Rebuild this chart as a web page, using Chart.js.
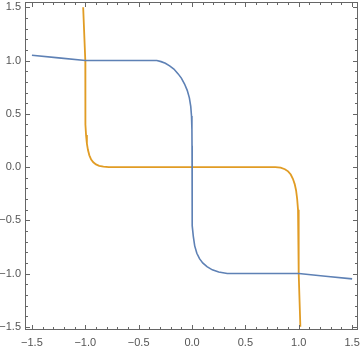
<!DOCTYPE html>
<html>
<head>
<meta charset="utf-8">
<script src="https://cdn.jsdelivr.net/npm/chart.js@4.4.1/dist/chart.umd.min.js"></script>
<style>
  html, body { margin: 0; padding: 0; background: #fff; }
  #wrap { width: 360px; height: 351px; }
</style>
</head>
<body>
<div id="wrap"><canvas id="chart"></canvas></div>
<script>
// blue curve
const blueX = [-1.5, -1.25, -1.0, -0.6, -0.33, -0.29, -0.25, -0.21, -0.17, -0.13, -0.1, -0.07, -0.045, -0.025,
  -0.012, -0.005, -0.001, 0, 0, 0, 0.001, 0.005, 0.012, 0.025, 0.045, 0.07, 0.1, 0.14, 0.19, 0.25, 0.33,
  0.6, 1.0, 1.25, 1.5];
const blueY = [1.05, 1.025, 1.0, 1.0, 1.0, 0.99, 0.975, 0.95, 0.92, 0.875, 0.835, 0.78, 0.72, 0.65,
  0.57, 0.48, 0.35, 0.2, 0, -0.2, -0.4, -0.55, -0.65, -0.74, -0.81, -0.86, -0.9, -0.935, -0.965, -0.985, -1.0,
  -1.0, -1.0, -1.025, -1.05];

// orange curve
const orangeX = [-1.02, -1.0, -1.0, -0.998, -0.993, -0.985, -0.975, -0.962, -0.945, -0.925, -0.9, -0.87,
  -0.83, -0.78, 0, 0.78, 0.83, 0.87, 0.9, 0.925, 0.945, 0.962, 0.975, 0.985, 0.993, 0.998, 1.0, 1.0, 1.015];
const orangeY = [1.5, 1.0, 0.6, 0.4, 0.3, 0.22, 0.16, 0.11, 0.07, 0.045, 0.025, 0.012,
  0.004, 0, 0, 0, -0.005, -0.02, -0.04, -0.07, -0.11, -0.16, -0.22, -0.3, -0.4, -0.55, -0.7, -1.0, -1.5];

const tickValues = [-1.5, -1.0, -0.5, 0, 0.5, 1.0, 1.5];
const minorTicks = [];
for (let i = -15; i <= 15; i++) minorTicks.push(i / 10);

const blue = '#5E81B5';
const orange = '#E19C24';
const frameColor = '#666';

function pts(xs, ys) {
  return xs.map((x, i) => ({ x: x, y: ys[i] }));
}

function fmt(v) {
  const s = Math.abs(v).toFixed(1);
  return v < 0 ? '\u2212' + s : s;
}

// Mathematica-style frame with inward ticks on all four sides
const framePlugin = {
  id: 'frame',
  afterDraw(chart) {
    const ctx = chart.ctx;
    const a = chart.chartArea;
    const xs = chart.scales.x, ys = chart.scales.y;
    ctx.save();
    ctx.strokeStyle = frameColor;
    ctx.lineWidth = 1;
    ctx.strokeRect(a.left + 0.5, a.top + 0.5, a.right - a.left - 1, a.bottom - a.top - 1);
    ctx.beginPath();
    minorTicks.forEach(v => {
      const major = Math.abs(v * 2 - Math.round(v * 2)) < 1e-6;
      const len = major ? 5 : 3;
      const px = Math.round(xs.getPixelForValue(v)) + 0.5;
      if (px > a.left && px < a.right) {
        ctx.moveTo(px, a.bottom); ctx.lineTo(px, a.bottom - len);
        ctx.moveTo(px, a.top); ctx.lineTo(px, a.top + len);
      }
      const py = Math.round(ys.getPixelForValue(v)) + 0.5;
      if (py > a.top && py < a.bottom) {
        ctx.moveTo(a.left, py); ctx.lineTo(a.left + len, py);
        ctx.moveTo(a.right, py); ctx.lineTo(a.right - len, py);
      }
    });
    ctx.stroke();
    ctx.restore();
  }
};

const tickFont = { family: 'Liberation Sans, Arial, sans-serif', size: 11 };

function noPad(s) {
  s.paddingLeft = 0; s.paddingRight = 0; s.paddingTop = 0; s.paddingBottom = 0;
}

new Chart(document.getElementById('chart'), {
  type: 'scatter',
  data: {
    datasets: [
      { data: pts(blueX, blueY), borderColor: blue, borderWidth: 1.6, showLine: true, pointRadius: 0, fill: false },
      { data: pts(orangeX, orangeY), borderColor: orange, borderWidth: 1.8, showLine: true, pointRadius: 0, fill: false }
    ]
  },
  options: {
    responsive: true,
    maintainAspectRatio: false,
    devicePixelRatio: 1,
    animation: false,
    layout: { padding: { top: 2, right: 2, left: 0, bottom: 0 } },
    plugins: { legend: { display: false }, tooltip: { enabled: false } },
    scales: {
      x: {
        type: 'linear', min: -1.565, max: 1.555,
        grid: { display: false, drawTicks: false },
        border: { display: false },
        afterBuildTicks: s => { s.ticks = tickValues.map(v => ({ value: v })); },
        afterFit: s => { s.height = 21; noPad(s); },
        ticks: { color: '#555', font: tickFont, padding: 6, maxRotation: 0, callback: v => fmt(v) }
      },
      y: {
        type: 'linear', min: -1.53, max: 1.55,
        grid: { display: false, drawTicks: false },
        border: { display: false },
        afterBuildTicks: s => { s.ticks = tickValues.map(v => ({ value: v })); },
        afterFit: s => { s.width = 25; noPad(s); },
        ticks: { color: '#555', font: tickFont, padding: 4, callback: v => fmt(v) }
      }
    }
  },
  plugins: [framePlugin]
});
</script>
</body>
</html>
